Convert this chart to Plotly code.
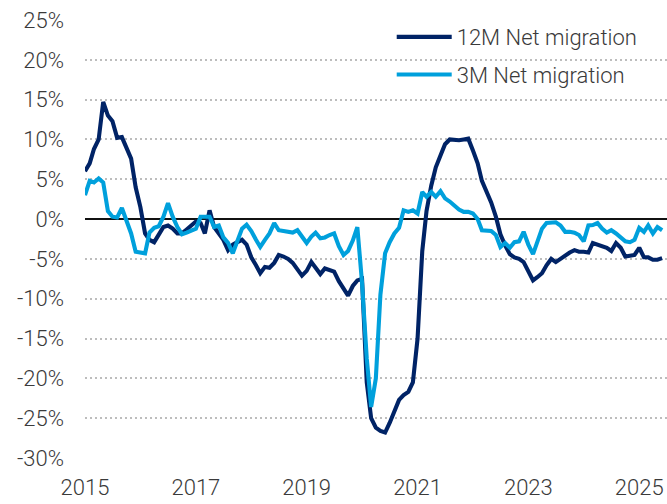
import plotly.graph_objects as go
import pandas as pd

months = pd.date_range("2015-01-01", periods=126, freq="MS")

net_12m = [
    6.0, 7.0, 8.8, 10.0, 14.7, 13.0, 12.3, 10.2, 10.3, 8.8, 7.6, 4.0,
    1.5, -1.8, -2.6, -2.9, -2.0, -1.0, -0.8, -1.2, -1.8, -1.8, -1.3, -0.8,
    -0.3, -0.5, -1.8, 1.1, -1.0, -1.8, -2.6, -3.9, -3.2, -2.9, -2.6, -3.2,
    -4.8, -5.8, -6.8, -6.0, -6.1, -5.5, -4.5, -4.7, -5.0, -5.5, -6.3, -7.1,
    -6.5, -5.4, -6.1, -6.9, -6.2, -6.4, -6.6, -7.8, -8.8, -9.6, -8.4, -7.7,
    -7.5, -20.5, -25.0, -26.2, -26.6, -26.8, -25.6, -24.0, -22.7, -22.1, -21.7, -20.5,
    -15.0, -4.0, 1.0, 4.2, 6.5, 8.0, 9.4, 10.0, 9.9, 9.9, 10.0, 10.1,
    8.6, 7.0, 4.8, 3.4, 2.1, 0.3, -1.9, -3.3, -4.4, -4.8, -5.0, -5.4,
    -6.6, -7.7, -7.3, -6.8, -5.8, -5.0, -5.4, -5.0, -4.5, -4.2, -3.9, -4.1,
    -4.1, -4.2, -3.0, -3.2, -3.3, -3.6, -4.0, -3.0, -3.6, -4.7, -4.6, -4.5,
    -3.6, -4.8, -4.8, -5.1, -5.1, -4.9,
]

net_3m = [
    3.0, 4.8, 4.6, 5.1, 4.6, 1.0, 0.3, 0.2, 1.4, -0.3, -1.8, -4.1,
    -4.2, -4.3, -1.7, -1.1, -0.9, 0.3, 2.0, 0.3, -1.0, -1.9, -1.7, -1.5,
    -1.2, 0.3, 0.3, 0.3, -1.0, -0.8, -2.3, -3.0, -4.3, -2.7, -1.2, -0.7,
    -1.5, -2.6, -3.5, -2.6, -1.8, -0.5, -1.4, -1.5, -1.6, -1.7, -1.4, -2.2,
    -3.0, -2.2, -1.7, -2.4, -2.3, -2.0, -1.8, -3.4, -4.5, -4.0, -2.7, -1.0,
    -8.0, -17.5, -23.6, -20.0, -9.5, -4.3, -2.9, -1.8, -1.1, 1.1, 0.9, 1.1,
    0.7, 3.4, 2.8, 3.4, 2.8, 3.5, 2.6, 2.2, 1.7, 1.2, 0.9, 0.9,
    0.7, 0.0, -1.4, -1.4, -1.5, -2.0, -3.5, -3.0, -3.6, -2.9, -2.8, -1.6,
    -3.2, -4.4, -2.8, -1.2, -0.5, -0.4, -0.4, -0.8, -1.6, -1.6, -1.7, -2.0,
    -2.8, -0.8, -0.75, -0.5, -1.2, -1.7, -1.4, -1.8, -2.4, -2.8, -2.9, -2.6,
    -1.1, -1.6, -0.8, -1.8, -1.0, -1.4,
]

series_names = ["12M Net migration", "3M Net migration"]
series_colors = ["#002366", "#00a0dc"]

x_tick_years = [2015, 2017, 2019, 2021, 2023, 2025]
y_tick_vals = list(range(-30, 30, 5))

FONT = "Roboto, sans-serif"
TEXT = "#3a3a3a"
tick_font = dict(family=FONT, size=22, color=TEXT, weight=300)

fig = go.Figure()
for i, (name, vals, col) in enumerate(zip(series_names, [net_12m, net_3m], series_colors)):
    fig.add_trace(go.Scatter(
        x=months, y=vals, mode="lines", name=name,
        line=dict(color=col, width=4.1),
        legendgroup=f"g{i}",
    ))

fig.update_layout(
    width=667, height=504,
    margin=dict(l=85, r=0, t=20, b=46, autoexpand=False),
    paper_bgcolor="white", plot_bgcolor="white",
    font=tick_font,
    showlegend=True,
    legend=dict(
        x=0.527, y=1.009, xanchor="left", yanchor="top",
        bgcolor="rgba(0,0,0,0)", borderwidth=0,
        font=tick_font,
        tracegroupgap=6, itemwidth=55,
    ),
    xaxis=dict(
        range=["2015-01-01", "2025-07-03"],
        tickvals=[pd.Timestamp(f"{y}-01-01") for y in x_tick_years],
        ticktext=[str(y) for y in x_tick_years],
        showgrid=False, zeroline=False, showline=False, automargin=False,
        ticks="", ticklabelstandoff=14,
        tickfont=tick_font,
    ),
    yaxis=dict(
        range=[-30, 25],
        tickvals=y_tick_vals,
        ticktext=[f"{v}%" for v in y_tick_vals],
        showgrid=True, gridcolor="#bdbdbd", gridwidth=1.5, griddash="2px,3px",
        zeroline=True, zerolinecolor="#111111", zerolinewidth=1.6,
        showline=False, automargin=False, ticks="", ticklabelstandoff=20,
        tickfont=tick_font,
    ),
)

fig.write_html(
    "out.html",
    config={"displayModeBar": False},
    post_script="document.body.style.margin='0';document.body.style.overflow='hidden';",
)
